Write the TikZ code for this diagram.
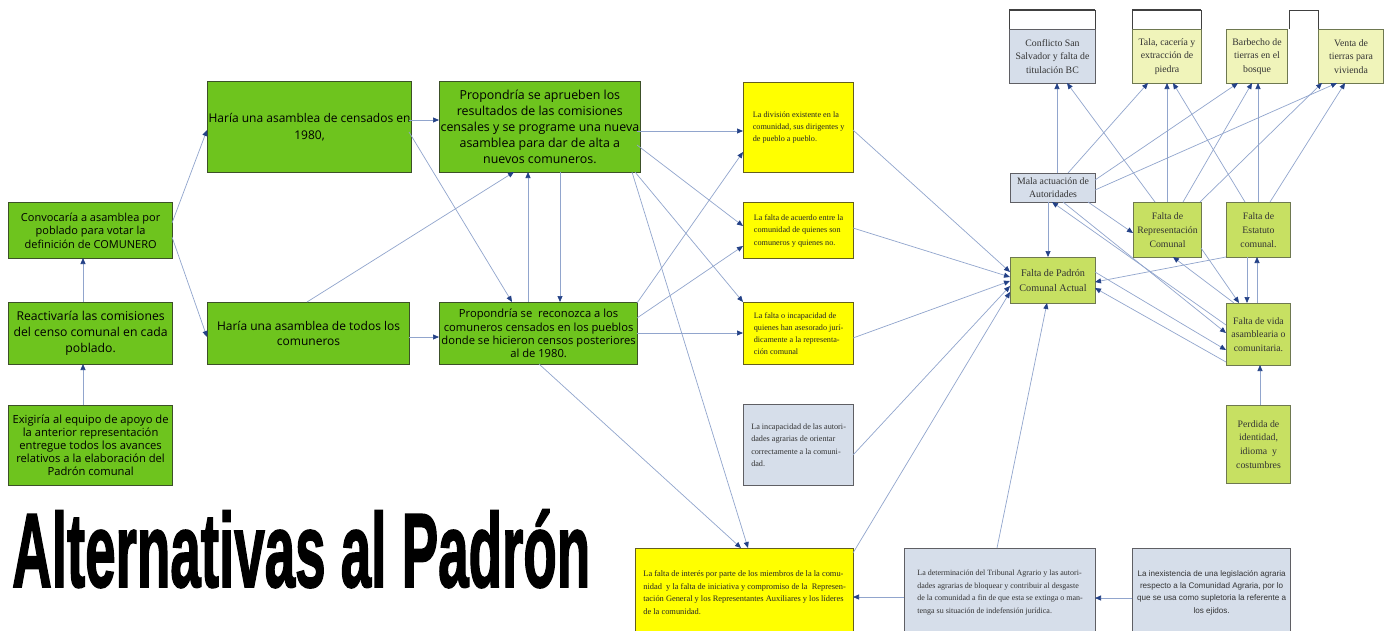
\documentclass[tikz,border=0pt]{standalone}
\usepackage{fontspec}
\usepackage{graphicx}
\setmainfont{Liberation Serif}
\newfontfamily\hand{Open Sans}
\newfontfamily\arial{Liberation Sans}
\newfontfamily\titlefont[FakeBold=2]{Liberation Sans}
\usetikzlibrary{arrows.meta,calc}
\definecolor{gfill}{RGB}{110,196,30}
\definecolor{gborder}{RGB}{60,80,40}
\definecolor{yfill}{RGB}{255,255,0}
\definecolor{yborder}{RGB}{100,95,30}
\definecolor{sfill}{RGB}{214,222,234}
\definecolor{sborder}{RGB}{95,95,100}
\definecolor{lfill}{RGB}{199,224,98}
\definecolor{lborder}{RGB}{110,120,80}
\definecolor{pfill}{RGB}{240,244,186}
\definecolor{lineblue}{RGB}{145,165,205}
\definecolor{tipblue}{RGB}{35,65,135}
\begin{document}
\begin{tikzpicture}[x=1pt,y=-1pt,
  bx/.style={draw, line width=1.2pt, anchor=north west, inner sep=1pt, align=center},
  gbox/.style={bx, fill=gfill, draw=gborder, text=black, font=\hand\fontsize{11}{13}\selectfont},
  ybox/.style={bx, fill=yfill, draw=yborder, align=left, text=black!85, font=\fontsize{8.2}{12.4}\selectfont},
  sbox/.style={bx, fill=sfill, draw=sborder, align=left, text=black!80, font=\fontsize{8.2}{12.4}\selectfont},
  rbox/.style={bx, line width=1pt, text=black!80, font=\fontsize{9.8}{13.8}\selectfont},
  lbox/.style={rbox, fill=lfill, draw=lborder},
  pbox/.style={rbox, fill=pfill, draw=lborder},
  qbox/.style={rbox, fill=sfill, draw=sborder},
  hdr/.style={draw=black!75, line width=0.8pt},
  conn/.style={draw=lineblue, line width=0.7pt, -{Triangle[length=6pt,width=5pt,color=tipblue]}}
]
\useasboundingbox (0,0) rectangle (1395,630);
\fill[white] (0,0) rectangle (1395,630);

% left column
\node[gbox, minimum width=164pt, minimum height=56pt, font=\hand\fontsize{11}{13.3}\selectfont] (A1) at (8,202) {Convocaría a asamblea por\\poblado para votar la\\definición de COMUNERO};
\node[gbox, minimum width=164pt, minimum height=62pt, font=\hand\fontsize{12.2}{16}\selectfont] (A2) at (8,302) {Reactivaría las comisiones\\del censo comunal en cada\\poblado.};
\node[gbox, minimum width=164pt, minimum height=80pt, font=\hand\fontsize{11.2}{13}\selectfont] (A3) at (8,405) {Exigiría al equipo de apoyo de\\la anterior representación\\entregue todos los avances\\relativos a la elaboración del\\Padrón comunal};

\node[gbox, minimum width=202pt, minimum height=91pt, font=\hand\fontsize{12}{16.5}\selectfont] (B1) at (207,81) {Haría una asamblea de censados en\\1980,};
\node[gbox, minimum width=198pt, minimum height=91pt, font=\hand\fontsize{12.4}{16}\selectfont] (C1) at (439,81) {Propondría se aprueben los\\resultados de las comisiones\\censales y se programe una nueva\\asamblea para dar de alta a\\nuevos comuneros.};
\node[gbox, minimum width=202pt, minimum height=62pt, font=\hand\fontsize{12}{15}\selectfont] (B2) at (207,302) {Haría una asamblea de todos los\\comuneros};
\node[gbox, minimum width=198pt, minimum height=62pt, font=\hand\fontsize{11.2}{13.4}\selectfont] (C2) at (439,302) {Propondría se\ \ reconozca a los\\comuneros censados en los pueblos\\donde se hicieron censos posteriores\\al de 1980.};

% yellow column
\node[ybox, minimum width=110pt, minimum height=90pt] (Y1) at (743,82) {La división existente en la\\comunidad, sus dirigentes y\\de pueblo a pueblo.};
\node[ybox, minimum width=110pt, minimum height=56pt] (Y2) at (743,202) {La falta de acuerdo entre la\\comunidad de quienes son\\comuneros y quienes no.};
\node[ybox, minimum width=110pt, minimum height=62pt, font=\fontsize{8.2}{11.7}\selectfont] (Y3) at (743,302) {La falta o incapacidad de\\quienes han asesorado jurí-\\dicamente a la representa-\\ción comunal};
\node[sbox, minimum width=110pt, minimum height=81pt] (G1) at (743,404) {La incapacidad de las autori-\\dades agrarias de orientar\\correctamente a la comuni-\\dad.};
\node[ybox, minimum width=218pt, minimum height=88pt, font=\fontsize{8.4}{12.8}\selectfont] (Y4) at (635,548) {La falta de interés por parte de los miembros de la la comu-\\nidad\ \ y la falta de iniciativa y compromiso de la\ \ Represen-\\tación General y los Representantes Auxiliares y los líderes\\de la comunidad.};
\node[sbox, minimum width=191pt, minimum height=88pt, font=\fontsize{8}{12.8}\selectfont] (G2) at (904,548) {La determinación del Tribunal Agrario y las autori-\\dades agrarias de bloquear y contribuir al desgaste\\de la comunidad a fin de que esta se extinga o man-\\tenga su situación de indefensión jurídica.};
\node[sbox, align=center, minimum width=158pt, minimum height=88pt, font=\arial\fontsize{8.1}{12.4}\selectfont] (G3) at (1132,548) {La inexistencia de una legislación agraria\\respecto a la Comunidad Agraria, por lo\\que se usa como supletoria la referente a\\los ejidos.};

% right part
\draw[hdr] (1009,10) rectangle (1095,29);
\draw[hdr, line width=1.5pt] (1009,10) -- (1095,10);
\draw[hdr] (1132,10) rectangle (1201,29);
\draw[hdr, line width=1.5pt] (1132,10) -- (1201,10);
\draw[hdr] (1289,29) -- (1289,10) -- (1318,10) -- (1318,29);
\node[qbox, minimum width=86pt, minimum height=54pt] (T1) at (1009,29) {Conflicto San\\Salvador y falta de\\titulación BC};
\node[pbox, minimum width=69pt, minimum height=54pt] (T2) at (1132,29) {Tala, cacería y\\extracción de\\piedra};
\node[pbox, minimum width=61pt, minimum height=54pt] (T3) at (1226,29) {Barbecho de\\tierras en el\\bosque};
\node[pbox, minimum width=65pt, minimum height=54pt] (T4) at (1318,29) {Venta de\\tierras para\\vivienda};
\node[qbox, minimum width=85pt, minimum height=29pt, font=\fontsize{9.8}{13}\selectfont] (M) at (1010,173) {Mala actuación de\\Autoridades};
\node[lbox, minimum width=68pt, minimum height=55pt] (FR) at (1133,202) {Falta de\\Representación\\Comunal};
\node[lbox, minimum width=64pt, minimum height=55pt] (FE) at (1226,202) {Falta de\\Estatuto\\comunal.};
\node[lbox, minimum width=85pt, minimum height=46pt, font=\fontsize{10.2}{14.5}\selectfont] (FP) at (1010,257) {Falta de Padrón\\Comunal Actual};
\node[lbox, minimum width=64pt, minimum height=62pt] (FV) at (1226,303) {Falta de vida\\asamblearia o\\comunitaria.};
\node[lbox, minimum width=64pt, minimum height=78pt] (PI) at (1226,405) {Perdida de\\identidad,\\idioma\ \ y\\costumbres};

% title
\node[anchor=south west, inner sep=0pt] (title) at (12,588) {\resizebox{578pt}{77pt}{\titlefont\bfseries Alternativas al Padrón}};

% connectors: left
\draw[conn] ($(A3.north west)+(75,0)$) -- ($(A2.north west)+(75,62)$);
\draw[conn] ($(A2.north west)+(75,0)$) -- ($(A1.north west)+(75,56)$);
\draw[conn] ($(A1.north west)+(164,21)$) -- ($(B1.north west)+(0,49)$);
\draw[conn] ($(A1.north west)+(164,35)$) -- ($(B2.north west)+(0,35)$);
\draw[conn] ($(B1.north west)+(202,39)$) -- ($(C1.north west)+(0,39)$);
\draw[conn] ($(B1.north west)+(202,51)$) -- ($(C2.north west)+(73,0)$);
\draw[conn] ($(B2.north west)+(100,0)$) -- ($(C1.north west)+(75,91)$);
\draw[conn] ($(B2.north west)+(202,35)$) -- ($(C2.north west)+(0,35)$);
\draw[conn] ($(C2.north west)+(89,0)$) -- ($(C1.north west)+(89,91)$);
\draw[conn] ($(C1.north west)+(121,91)$) -- ($(C2.north west)+(121,0)$);
% to yellow
\draw[conn] ($(C1.north west)+(198,50)$) -- ($(Y1.north west)+(0,49)$);
\draw[conn] ($(C1.north west)+(198,64)$) -- ($(Y2.north west)+(0,24)$);
\draw[conn] ($(C1.north west)+(196,91)$) -- (Y3.north west);
\draw[conn] ($(C1.north west)+(193,91)$) -- ($(Y4.north west)+(113,0)$);
\draw[conn] ($(C2.north west)+(198,1)$) -- ($(Y1.north west)+(0,70)$);
\draw[conn] ($(C2.north west)+(198,16)$) -- ($(Y2.north west)+(0,44)$);
\draw[conn] ($(C2.north west)+(198,31)$) -- ($(Y3.north west)+(0,31)$);
\draw[conn] ($(C2.north west)+(100,62)$) -- ($(Y4.north west)+(106,0)$);
% to Falta de Padron
\draw[conn] ($(Y1.north west)+(110,48)$) -- ($(FP.north west)+(0,15)$);
\draw[conn] ($(Y2.north west)+(110,26)$) -- ($(FP.north west)+(0,20)$);
\draw[conn] ($(Y3.north west)+(110,36)$) -- ($(FP.north west)+(0,24)$);
\draw[conn] ($(G1.north west)+(110,51)$) -- ($(FP.north west)+(0,29)$);
\draw[conn] ($(Y4.north west)+(218,5)$) -- ($(FP.north west)+(0,35)$);
\draw[conn] ($(G2.north west)+(93,0)$) -- ($(FP.north west)+(37,46)$);
\draw[conn] ($(G2.north west)+(0,49)$) -- ($(Y4.north west)+(218,49)$);
\draw[conn] ($(G3.north west)+(0,50)$) -- ($(G2.north west)+(191,50)$);
% right cluster
\draw[conn] ($(M.north west)+(38,29)$) -- ($(FP.north west)+(38,0)$);
\draw[conn] ($(M.north west)+(47,0)$) -- ($(T1.north west)+(48,54)$);
\draw[conn] ($(FR.north west)+(22,0)$) -- ($(T1.north west)+(58,54)$);
\draw[conn] ($(M.north west)+(58,0)$) -- ($(T2.north west)+(16,54)$);
\draw[conn] ($(FR.north west)+(34,0)$) -- ($(T2.north west)+(35,54)$);
\draw[conn] ($(FE.north west)+(19,0)$) -- ($(T2.north west)+(41,54)$);
\draw[conn] ($(M.north west)+(85,7)$) -- ($(T3.north west)+(12,54)$);
\draw[conn] ($(FR.north west)+(50,0)$) -- ($(T3.north west)+(26,54)$);
\draw[conn] ($(FE.north west)+(32,0)$) -- ($(T3.north west)+(32,54)$);
\draw[conn] ($(FR.north west)+(67,0)$) -- ($(T4.north west)+(4,54)$);
\draw[conn] ($(M.north west)+(85,17)$) -- ($(T4.north west)+(19,54)$);
\draw[conn] ($(FE.north west)+(44,0)$) -- ($(T4.north west)+(27,54)$);
\draw[conn] ($(M.north west)+(78,29)$) -- ($(FR.north west)+(0,31)$);
\draw[conn] ($(M.north west)+(53,29)$) -- ($(FV.north west)+(0,30)$);
\draw[conn] ($(FV.north west)+(0,22)$) -- ($(M.north west)+(42,29)$);
\draw[conn] ($(FP.north west)+(85,15)$) -- ($(FV.north west)+(0,47)$);
\draw[conn] ($(FV.north west)+(0,59)$) -- ($(FP.north west)+(85,31)$);
\draw[conn] ($(FE.north west)+(0,55)$) -- ($(FP.north west)+(85,25)$);
\draw[conn] ($(FV.north west)+(8,0)$) -- ($(FR.north west)+(40,55)$);
\draw[conn] ($(FR.north west)+(68,46)$) -- ($(FV.north west)+(13,0)$);
\draw[conn] ($(FE.north west)+(21,55)$) -- ($(FV.north west)+(21,0)$);
\draw[conn] ($(FV.north west)+(31,0)$) -- ($(FE.north west)+(31,55)$);
\draw[conn] ($(PI.north west)+(34,0)$) -- ($(FV.north west)+(34,62)$);
\end{tikzpicture}
\end{document}
